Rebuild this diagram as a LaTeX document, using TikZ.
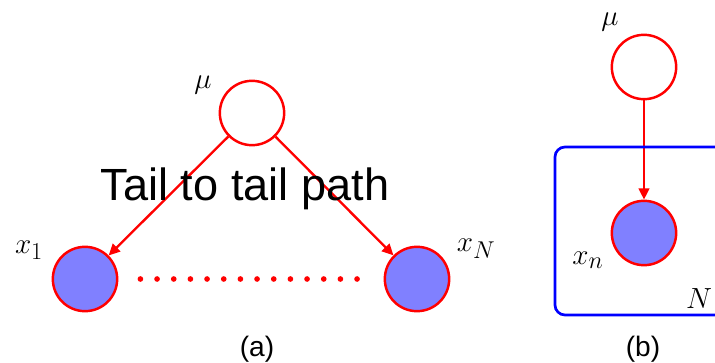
\documentclass[tikz,border=0pt]{standalone}
\usepackage{fontspec}
\setsansfont{Liberation Sans}
\usepackage{tikz}
\usetikzlibrary{arrows.meta, positioning}
\tikzset{
  latent/.style={circle, draw=red, fill=white, line width=2.1pt,
                 minimum size=1.93cm, inner sep=0pt},
  observed/.style={latent, fill=blue!50},
  arrow/.style={-{Triangle[length=0.34cm, width=0.32cm]}, draw=red, line width=2pt},
  dotline/.style={red, line width=0.17cm, line cap=round,
                  dash pattern=on 0pt off 0.5cm},
  plate/.style={draw=blue, line width=2.3pt, rounded corners=0.3cm},
  varname/.style={font=\fontsize{30}{32}\selectfont, inner sep=0pt},
  caption/.style={font=\sffamily\fontsize{24}{26}\selectfont, inner sep=0pt}
}
\begin{document}
\begin{tikzpicture}[x=0.03cm, y=-0.03cm]
  \useasboundingbox (0,0) rectangle (715,363);

  % (a) tail to tail
  \node[latent] (mu) at (252,113) {};
  \node[observed] (xone) at (85,279) {};
  \node[observed] (xN) at (417,279) {};

  \node[varname] (mulabel) at (203,85) {$\mu$};
  \node[varname] (xonelabel) at (29,250) {$x_1$};
  \node[varname] (xNlabel) at (476,249) {$x_N$};

  \draw[arrow] (mu) -- (xone);
  \draw[arrow] (mu) -- (xN);
  \draw[dotline, shorten <=0.66cm, shorten >=0.78cm] (xone) -- (xN);

  \node[font=\sffamily\fontsize{38.5}{40}\selectfont, inner sep=0pt, anchor=base]
    (tail) at (245,200) {Tail to tail path};
  \node[caption] (capa) at (257,349) {(a)};

  % (b) plate notation
  \node[latent] (mub) at (644,67) {};
  \node[observed] (xn) at (644,233) {};

  \node[varname] (mublabel) at (610,22) {$\mu$};
  \node[varname] (xnlabel) at (588,260) {$x_n$};
  \node[varname] (Nlabel) at (699,299) {$N$};

  \draw[arrow] (mub) -- (xn);
  \draw[plate] (715,147) -- (555,147) -- (555,315) -- (715,315);

  \node[caption] (capb) at (643,349) {(b)};
\end{tikzpicture}
\end{document}
